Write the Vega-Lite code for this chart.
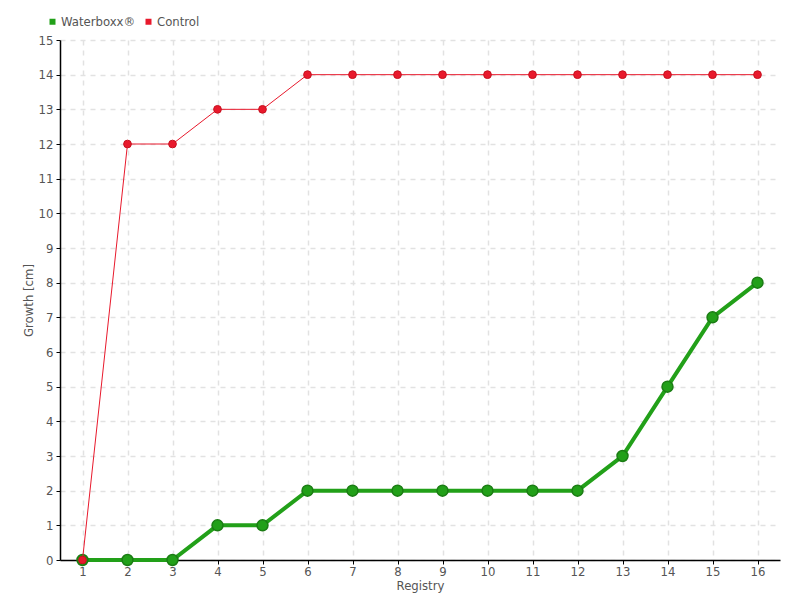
{
  "$schema": "https://vega.github.io/schema/vega-lite/v6.json",
  "width": 720,
  "height": 520,
  "autosize": "none",
  "padding": {"left": 60, "top": 40, "right": 20, "bottom": 40},
  "background": "white",
  "config": {
    "font": "DejaVu Sans Condensed, Roboto Condensed, Roboto, sans-serif",
    "view": {"stroke": null},
    "axis": {
      "domainColor": "#000000",
      "domainWidth": 1.5,
      "tickColor": "#000000",
      "tickSize": 4,
      "labelColor": "#555555",
      "labelFontSize": 13,
      "titleColor": "#555555",
      "titleFontSize": 13,
      "titleFontWeight": "normal",
      "gridColor": "#e2e2e2",
      "gridDash": [5, 5],
      "gridWidth": 1.5
    }
  },
  "data": {
    "values": [
      {"registry": 1, "series": "Waterboxx®", "growth": 0},
      {"registry": 2, "series": "Waterboxx®", "growth": 0},
      {"registry": 3, "series": "Waterboxx®", "growth": 0},
      {"registry": 4, "series": "Waterboxx®", "growth": 1},
      {"registry": 5, "series": "Waterboxx®", "growth": 1},
      {"registry": 6, "series": "Waterboxx®", "growth": 2},
      {"registry": 7, "series": "Waterboxx®", "growth": 2},
      {"registry": 8, "series": "Waterboxx®", "growth": 2},
      {"registry": 9, "series": "Waterboxx®", "growth": 2},
      {"registry": 10, "series": "Waterboxx®", "growth": 2},
      {"registry": 11, "series": "Waterboxx®", "growth": 2},
      {"registry": 12, "series": "Waterboxx®", "growth": 2},
      {"registry": 13, "series": "Waterboxx®", "growth": 3},
      {"registry": 14, "series": "Waterboxx®", "growth": 5},
      {"registry": 15, "series": "Waterboxx®", "growth": 7},
      {"registry": 16, "series": "Waterboxx®", "growth": 8},
      {"registry": 1, "series": "Control", "growth": 0},
      {"registry": 2, "series": "Control", "growth": 12},
      {"registry": 3, "series": "Control", "growth": 12},
      {"registry": 4, "series": "Control", "growth": 13},
      {"registry": 5, "series": "Control", "growth": 13},
      {"registry": 6, "series": "Control", "growth": 14},
      {"registry": 7, "series": "Control", "growth": 14},
      {"registry": 8, "series": "Control", "growth": 14},
      {"registry": 9, "series": "Control", "growth": 14},
      {"registry": 10, "series": "Control", "growth": 14},
      {"registry": 11, "series": "Control", "growth": 14},
      {"registry": 12, "series": "Control", "growth": 14},
      {"registry": 13, "series": "Control", "growth": 14},
      {"registry": 14, "series": "Control", "growth": 14},
      {"registry": 15, "series": "Control", "growth": 14},
      {"registry": 16, "series": "Control", "growth": 14}
    ]
  },
  "encoding": {
    "x": {
      "field": "registry",
      "type": "ordinal",
      "scale": {"type": "point", "padding": 0.5},
      "axis": {"title": "Registry", "labelAngle": 0, "titlePadding": 1, "labelPadding": 1, "grid": true}
    },
    "y": {
      "field": "growth",
      "type": "quantitative",
      "scale": {"domain": [0, 15], "nice": false},
      "axis": {"title": "Growth [cm]", "values": [0,1,2,3,4,5,6,7,8,9,10,11,12,13,14,15], "titlePadding": 3, "labelPadding": 3, "grid": true}
    },
    "color": {
      "field": "series",
      "type": "nominal",
      "scale": {"domain": ["Waterboxx®", "Control"], "range": ["#22a019", "#e8192c"]},
      "legend": {
        "title": null,
        "orient": "none",
        "legendX": -14,
        "legendY": -25,
        "direction": "horizontal",
        "symbolType": "square",
        "symbolSize": 36,
        "symbolStrokeWidth": 0,
        "labelFontSize": 13,
        "labelColor": "#555555",
        "columnPadding": 6,
        "labelOffset": 2
      }
    }
  },
  "layer": [
    {
      "transform": [{"filter": "datum.series === 'Waterboxx®'"}],
      "mark": {"type": "line", "strokeWidth": 4}
    },
    {
      "transform": [{"filter": "datum.series === 'Waterboxx®'"}],
      "mark": {"type": "point", "filled": true, "size": 120, "stroke": "#1b7d14", "strokeWidth": 1.5, "opacity": 1}
    },
    {
      "transform": [{"filter": "datum.series === 'Control'"}],
      "mark": {"type": "line", "strokeWidth": 1}
    },
    {
      "transform": [{"filter": "datum.series === 'Control'"}],
      "mark": {"type": "point", "filled": true, "size": 60, "stroke": "#c8101f", "strokeWidth": 1, "opacity": 1}
    }
  ]
}
